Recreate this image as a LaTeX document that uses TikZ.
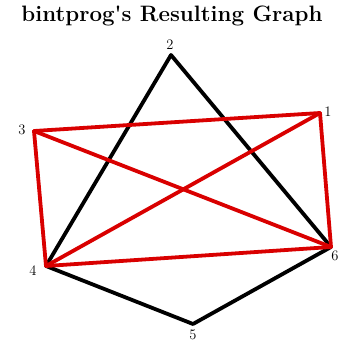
\documentclass[tikz,border=0pt]{standalone}
\begin{document}
\begin{tikzpicture}[x=1pt,y=-1pt,
  vtx/.style={inner sep=0pt,minimum size=0pt},
  lab/.style={font=\fontsize{14.5}{16}\selectfont},
  blk/.style={line width=3.8pt,black,line cap=round,line join=round},
  redl/.style={line width=3.8pt,red!85!black,line cap=round,line join=round}]
\useasboundingbox (0,0) rectangle (347,345);
\node[font=\bfseries\fontsize{22.3}{26}\selectfont] (title) at (172,16) {bintprog\textquotesingle s Resulting Graph};
\coordinate (v1) at (320,113);
\coordinate (v2) at (171,55);
\coordinate (v3) at (34,131);
\coordinate (v4) at (46,266);
\coordinate (v5) at (193,324);
\coordinate (v6) at (331,247);
\node[lab] (l1) at (328,112) {1};
\node[lab] (l2) at (170,45) {2};
\node[lab] (l3) at (22,130) {3};
\node[lab] (l4) at (33,271) {4};
\node[lab] (l5) at (193,335) {5};
\node[lab] (l6) at (335,256) {6};
\draw[blk] (v4) -- (v2) -- (v6);
\draw[blk] (v4) -- (v5) -- (v6);
\draw[redl] (v3) -- (v1);
\draw[redl] (v3) -- (v4);
\draw[redl] (v3) -- (v6);
\draw[redl] (v1) -- (v4);
\draw[redl] (v1) -- (v6);
\draw[redl] (v4) -- (v6);
\end{tikzpicture}
\end{document}
